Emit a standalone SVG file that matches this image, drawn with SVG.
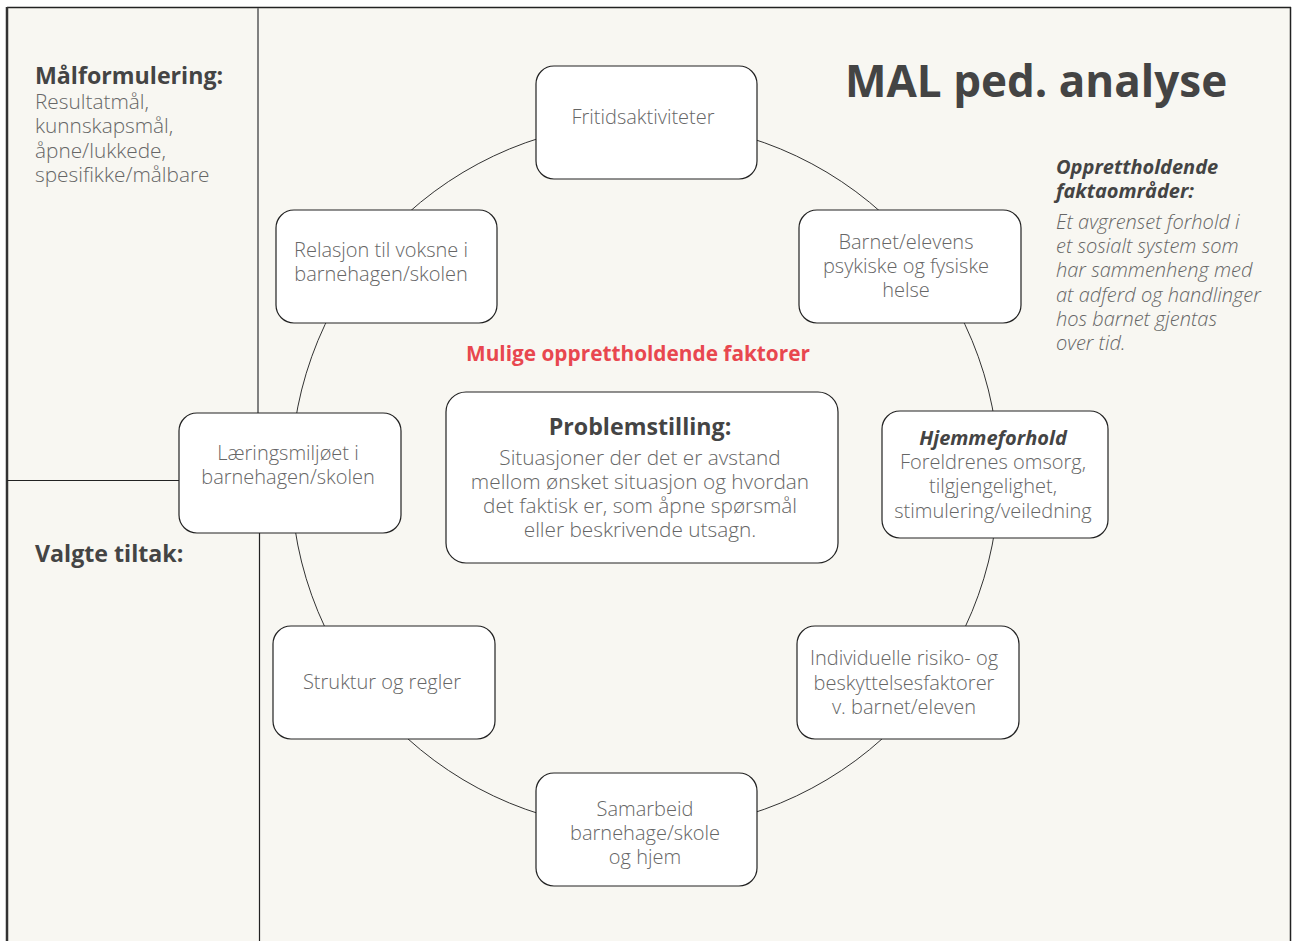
<svg xmlns="http://www.w3.org/2000/svg" width="1297" height="941" viewBox="0 0 1297 941">
<style>
.t{font-family:"Open Sans","Liberation Sans",sans-serif;font-weight:300;fill:#666;font-size:20px}
.c{text-anchor:middle}
.b{font-weight:700;fill:#444}
.i{font-style:italic}
.h{font-size:23.2px}
.l{font-size:20.8px}
.box{fill:#fff;stroke:#222;stroke-width:1.2}
</style>
<rect x="0" y="0" width="1297" height="941" fill="#fff"/>
<rect x="7" y="7" width="1284" height="940" fill="#f8f7f2"/>
<g id="frame" fill="none">
<line x1="7" y1="7.5" x2="1291" y2="7.5" stroke="#222" stroke-width="1.5"/>
<line x1="7" y1="7" x2="7" y2="941" stroke="#333" stroke-width="2.5"/>
<line x1="1290.5" y1="7" x2="1290.5" y2="941" stroke="#222" stroke-width="1.5"/>
<line x1="258" y1="8" x2="258" y2="413" stroke="#808080" stroke-width="2"/>
<line x1="259.5" y1="533" x2="259.5" y2="941" stroke="#222" stroke-width="1.2"/>
<line x1="7" y1="480.5" x2="179" y2="480.5" stroke="#222" stroke-width="1.2"/>
</g>
<g id="connectors">
<circle cx="645" cy="476" r="354" fill="none" stroke="#333" stroke-width="1"/>
</g>
<g id="left-text">
<text class="t b h" x="35" y="84">Målformulering:</text>
<text class="t l" x="35" y="109">Resultatmål,</text>
<text class="t l" x="35" y="133">kunnskapsmål,</text>
<text class="t l" x="35" y="158">åpne/lukkede,</text>
<text class="t l" x="35" y="182">spesifikke/målbare</text>
<text class="t b h" x="35" y="562">Valgte tiltak:</text>
</g>
<g id="title">
<text class="t b" x="845" y="97" style="font-size:44px">MAL ped. analyse</text>
</g>
<g id="right-text">
<text class="t b i" x="1056" y="174">Opprettholdende</text>
<text class="t b i" x="1056" y="198">faktaområder:</text>
<text class="t i" x="1056" y="229">Et avgrenset forhold i</text>
<text class="t i" x="1056" y="253">et sosialt system som</text>
<text class="t i" x="1056" y="277">har sammenheng med</text>
<text class="t i" x="1056" y="302">at adferd og handlinger</text>
<text class="t i" x="1056" y="326">hos barnet gjentas</text>
<text class="t i" x="1056" y="350">over tid.</text>
</g>
<g id="subtitle">
<text class="t b c l" x="638" y="361" style="fill:#e8474f">Mulige opprettholdende faktorer</text>
</g>
<g id="center">
<rect class="box" x="446" y="392" width="392" height="171" rx="20" stroke-width="1.6"/>
<text class="t b c h" x="640" y="435">Problemstilling:</text>
<text class="t c l" x="640" y="465">Situasjoner der det er avstand</text>
<text class="t c l" x="640" y="489">mellom ønsket situasjon og hvordan</text>
<text class="t c l" x="640" y="513">det faktisk er, som åpne spørsmål</text>
<text class="t c l" x="640" y="537">eller beskrivende utsagn.</text>
</g>
<g id="n-fritid">
<rect class="box" x="536" y="66" width="221" height="113" rx="18"/>
<text class="t c" x="643" y="124">Fritidsaktiviteter</text>
</g>
<g id="n-relasjon">
<rect class="box" x="276" y="210" width="221" height="113" rx="18"/>
<text class="t c" x="381" y="257">Relasjon til voksne i</text>
<text class="t c" x="381" y="281">barnehagen/skolen</text>
</g>
<g id="n-barnet">
<rect class="box" x="799" y="210" width="222" height="113" rx="18"/>
<text class="t c" x="906" y="249">Barnet/elevens</text>
<text class="t c" x="906" y="273">psykiske og fysiske</text>
<text class="t c" x="906" y="297">helse</text>
</g>
<g id="n-laering">
<rect class="box" x="179" y="413" width="222" height="120" rx="18"/>
<text class="t c" x="288" y="460">Læringsmiljøet i</text>
<text class="t c" x="288" y="484">barnehagen/skolen</text>
</g>
<g id="n-hjemme">
<rect class="box" x="882" y="411" width="226" height="127" rx="18"/>
<text class="t b i c" x="993" y="445">Hjemmeforhold</text>
<text class="t c" x="993" y="469">Foreldrenes omsorg,</text>
<text class="t c" x="993" y="493">tilgjengelighet,</text>
<text class="t c" x="993" y="518">stimulering/veiledning</text>
</g>
<g id="n-struktur">
<rect class="box" x="273" y="626" width="222" height="113" rx="18"/>
<text class="t c" x="382" y="689">Struktur og regler</text>
</g>
<g id="n-individ">
<rect class="box" x="797" y="626" width="222" height="113" rx="18"/>
<text class="t c" x="904" y="665">Individuelle risiko- og</text>
<text class="t c" x="904" y="690">beskyttelsesfaktorer</text>
<text class="t c" x="904" y="714">v. barnet/eleven</text>
</g>
<g id="n-samarbeid">
<rect class="box" x="536" y="773" width="221" height="113" rx="18"/>
<text class="t c" x="645" y="816">Samarbeid</text>
<text class="t c" x="645" y="840">barnehage/skole</text>
<text class="t c" x="645" y="864">og hjem</text>
</g>
</svg>
